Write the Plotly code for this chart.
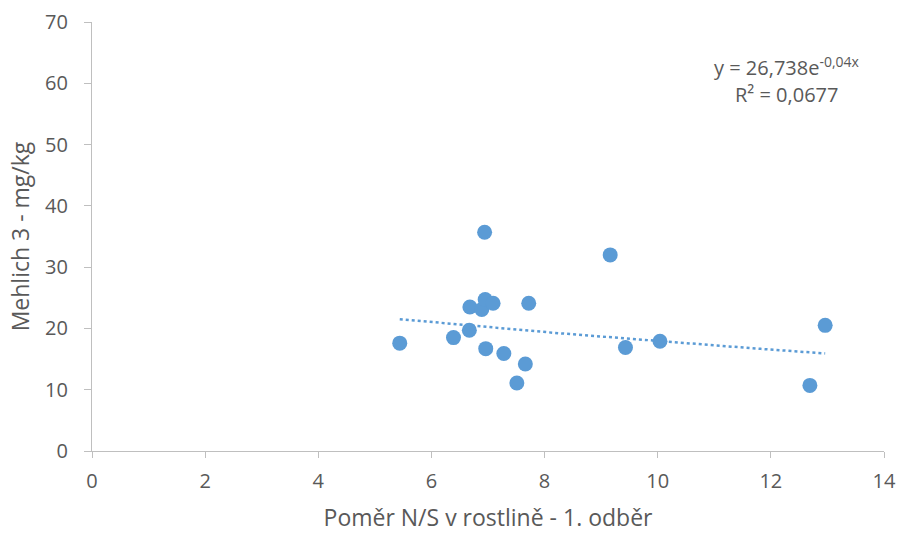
import numpy as np
import plotly.graph_objects as go

# N/S ratio in plant (1st sampling) vs. Mehlich 3 extractable content
ns_ratio = [5.44, 6.39, 6.67, 6.68, 6.89, 6.95, 7.09, 6.94, 6.96, 7.28, 7.66, 7.51, 7.72,
            9.16, 9.43, 10.04, 12.96, 12.69]
mehlich3 = [17.6, 18.5, 19.7, 23.5, 23.1, 24.7, 24.1, 35.7, 16.7, 15.9, 14.2, 11.1, 24.1,
            32.0, 16.9, 17.9, 20.5, 10.7]

# exponential trendline y = a * e^(b x)
trend_a = 26.738
trend_b = -0.04
r_squared = 0.0677

x_ticks = [0, 2, 4, 6, 8, 10, 12, 14]
y_ticks = [0, 10, 20, 30, 40, 50, 60, 70]

blue = "#5b9bd5"
axis_grey = "#bfbfbf"
text_grey = "#595959"
font_family = "'Open Sans', sans-serif"

tx = np.linspace(min(ns_ratio), max(ns_ratio), 100)
ty = trend_a * np.exp(trend_b * tx)

fig = go.Figure()
fig.add_trace(go.Scatter(
    x=tx, y=ty, mode="lines",
    line=dict(color=blue, width=2.5, dash="dot"),
    hoverinfo="skip", showlegend=False,
))
fig.add_trace(go.Scatter(
    x=ns_ratio, y=mehlich3, mode="markers",
    marker=dict(color=blue, size=15, line=dict(width=0)),
    showlegend=False,
))

eq_text = "y = 26,738e<sup>-0,04x</sup>"
r2_text = "R² = " + f"{r_squared:.4f}".replace(".", ",")
for label, ypos in [(eq_text, 0.897), (r2_text, 0.830)]:
    fig.add_annotation(
        xref="paper", yref="paper", x=0.8775, y=ypos,
        xanchor="center", yanchor="middle", align="center",
        text=label, showarrow=False,
        font=dict(family=font_family, size=20, color=text_grey),
    )

axis_common = dict(
    showgrid=False, zeroline=False, showline=True, automargin=False,
    linecolor=axis_grey, linewidth=1.3,
    tickcolor=axis_grey, tickwidth=1.3, ticks="outside",
    tickfont=dict(family=font_family, size=20, color=text_grey),
)

fig.update_layout(
    width=904, height=533,
    margin=dict(l=92, r=20, t=22, b=82),
    paper_bgcolor="white", plot_bgcolor="white",
    xaxis=dict(range=[0, 14], tickvals=x_ticks, ticklen=6, ticklabelstandoff=6,
               title=dict(text="Poměr N/S v rostlině - 1. odběr", standoff=16,
                          font=dict(family=font_family, size=23, color=text_grey)),
               **axis_common),
    yaxis=dict(range=[0, 70], tickvals=y_ticks, ticklen=7, ticklabelstandoff=12,
               title=dict(text="Mehlich 3 - mg/kg", standoff=8,
                          font=dict(family=font_family, size=23, color=text_grey)),
               **axis_common),
)

fig.write_html("out.html")
